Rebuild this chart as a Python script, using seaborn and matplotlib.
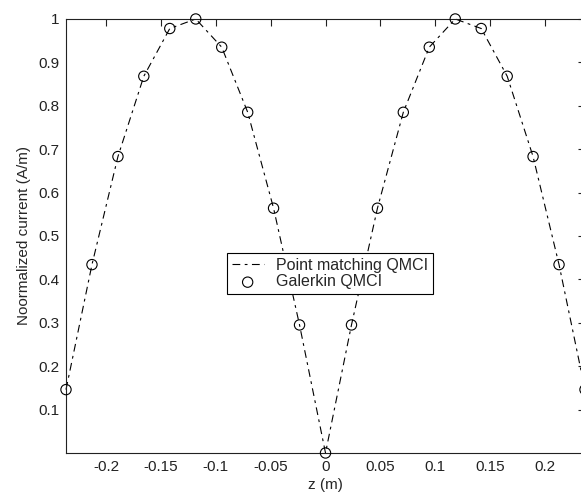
import numpy as np
import pandas as pd
import matplotlib
matplotlib.use("Agg")
import matplotlib.pyplot as plt
import seaborn as sns

# sample positions along the wire (m), 21 points, symmetric about 0
z_half = [0.0, 0.0237, 0.0474, 0.0710, 0.0947, 0.1184,
          0.1421, 0.1658, 0.1894, 0.2131, 0.2368]
# normalized current (one half, mirrored)
i_half = [0.0, 0.295, 0.564, 0.785, 0.935, 1.0,
          0.978, 0.868, 0.683, 0.434, 0.146]

z_vals = [-z for z in z_half[:0:-1]] + z_half
i_vals = i_half[:0:-1] + i_half

x_ticks = [-0.2, -0.15, -0.1, -0.05, 0, 0.05, 0.1, 0.15, 0.2]
x_tick_labels = ["-0.2", "-0.15", "-0.1", "-0.05", "0", "0.05", "0.1", "0.15", "0.2"]
y_ticks = [0.1, 0.2, 0.3, 0.4, 0.5, 0.6, 0.7, 0.8, 0.9, 1.0]
y_tick_labels = ["0.1", "0.2", "0.3", "0.4", "0.5", "0.6", "0.7", "0.8", "0.9", "1"]

df = pd.DataFrame({"z": z_vals, "current": i_vals})

sns.set_style("white")
plt.rcParams["font.family"] = ["Liberation Sans", "DejaVu Sans"]

fig = plt.figure(figsize=(5.81, 4.98), dpi=100)
ax = fig.add_axes([0.1136, 0.0904, 0.8933, 0.8715])

sns.lineplot(data=df, x="z", y="current", ax=ax, color="black",
             linewidth=0.8, label="Point matching QMCI", clip_on=False,
             dashes=False)
ax.lines[0].set_linestyle((0, (7, 4, 2.5, 4)))
sns.scatterplot(data=df, x="z", y="current", ax=ax, marker="o",
                facecolor="none", edgecolor="black", linewidth=0.8, s=55,
                label="Galerkin QMCI", clip_on=False, zorder=3)

ax.set_xlim(-0.2368, 0.2368)
ax.set_ylim(0, 1)
ax.set_xticks(x_ticks)
ax.set_xticklabels(x_tick_labels)
ax.set_yticks(y_ticks)
ax.set_yticklabels(y_tick_labels)
ax.tick_params(direction="in", length=5, width=0.8, top=True, right=True,
               labelsize=11, colors="#222222", pad=5)
for sp in ax.spines.values():
    sp.set_color("#222222")
    sp.set_linewidth(0.8)

ax.set_xlabel("z (m)", fontsize=11, labelpad=3)
ax.set_ylabel("Noormalized current (A/m)", fontsize=11, labelpad=5)

leg = ax.legend(loc="lower left", bbox_to_anchor=(0.31, 0.366),
                borderaxespad=0, fontsize=11.5, fancybox=False,
                edgecolor="black", framealpha=1, handlelength=2.0,
                borderpad=0.3, labelspacing=0.1)
leg.get_frame().set_linewidth(0.8)

fig.savefig("out.png", dpi=100)
